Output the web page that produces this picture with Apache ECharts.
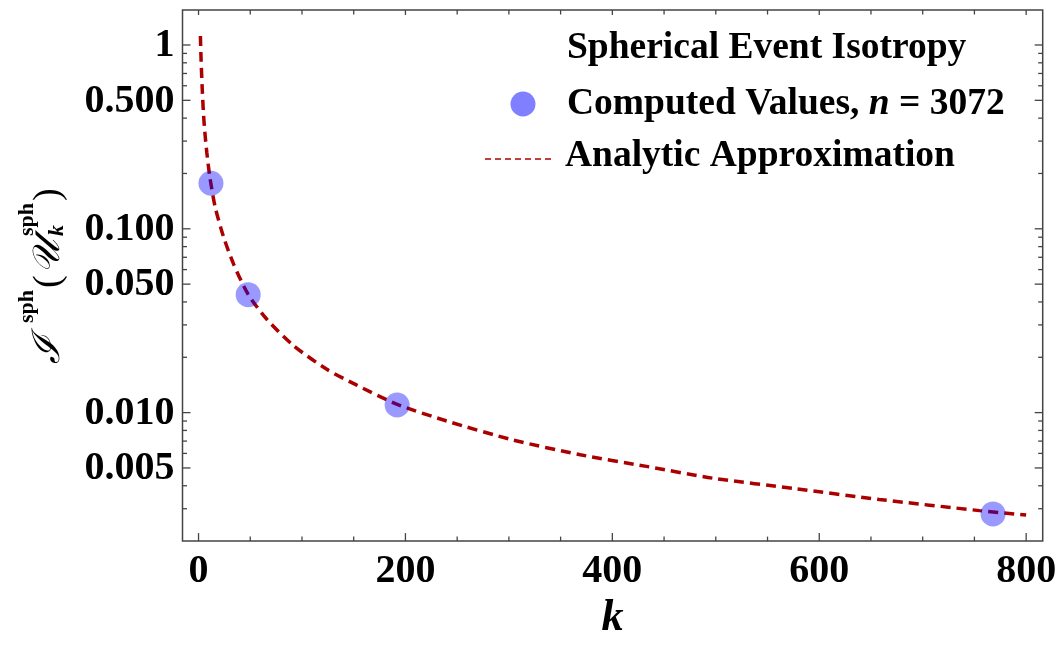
<!DOCTYPE html>
<html>
<head>
<meta charset="utf-8">
<script src="https://cdn.jsdelivr.net/npm/echarts@6/dist/echarts.min.js"></script>
<style>
  html, body { margin: 0; padding: 0; background: #ffffff; }
  #chart { width: 1060px; height: 646px; }
</style>
</head>
<body>
<div id="chart"></div>
<script>
// Computed isotropy values for HEALPix-style uniform events (k points)
const kComputed = [12, 48, 192, 768];
const isoComputed = [0.177, 0.0438, 0.0110, 0.00281];

// Analytic approximation curve, sampled along k
const kApprox = [1.8, 2.5, 3.5, 4.6, 6, 8, 11, 16, 24, 34, 48, 66, 92, 124, 153, 192,
                 240, 304, 369, 433, 497, 578, 658, 755, 800];
const isoApprox = [1.12, 0.82, 0.59, 0.44, 0.34, 0.26, 0.19, 0.132, 0.091, 0.064, 0.044,
                   0.0322, 0.0231, 0.0172, 0.0141, 0.0111, 0.0090, 0.0071, 0.0059, 0.0051,
                   0.0044, 0.00385, 0.00337, 0.00293, 0.00277];

// Axis ticks
const xTickValues = [0, 200, 400, 600, 800];
const xMinorTicks = [50, 100, 150, 250, 300, 350, 450, 500, 550, 650, 700, 750];
const yTickValues = [0.005, 0.01, 0.05, 0.1, 0.5, 1];
const yTickLabels = ['0.005', '0.010', '0.050', '0.100', '0.500', '1'];
const yMinorTicks = [0.003, 0.004, 0.006, 0.007, 0.008, 0.009,
                     0.02, 0.03, 0.04, 0.06, 0.07, 0.08, 0.09,
                     0.2, 0.3, 0.4, 0.6, 0.7, 0.8, 0.9];

const X_MIN = -15.5, X_MAX = 816;
const Y_MIN = 0.002, Y_MAX = 1.55;

const SERIF = '"Liberation Serif", "Times New Roman", serif';
const FRAME = '#444444';
const CURVE = '#aa0000';
const POINT = 'rgba(0, 0, 255, 0.5)';

function frameTicks(params, api) {
  const children = [];
  const seg = (x1, y1, x2, y2) => children.push({
    type: 'line',
    shape: { x1, y1, x2, y2 },
    style: { stroke: FRAME, lineWidth: 1.3 }
  });
  xTickValues.forEach(v => {
    const b = api.coord([v, Y_MIN]);
    const t = api.coord([v, Y_MAX]);
    seg(b[0], b[1], b[0], b[1] - 8);
    seg(t[0], t[1], t[0], t[1] + 5);
  });
  xMinorTicks.forEach(v => {
    const b = api.coord([v, Y_MIN]);
    const t = api.coord([v, Y_MAX]);
    seg(b[0], b[1], b[0], b[1] - 4.5);
    seg(t[0], t[1], t[0], t[1] + 4.5);
  });
  yTickValues.forEach((v, i) => {
    const l = api.coord([X_MIN, v]);
    const r = api.coord([X_MAX, v]);
    seg(l[0], l[1], l[0] + 8, l[1]);
    seg(r[0], r[1], r[0] - 8, r[1]);
    children.push({
      type: 'text',
      style: {
        x: l[0] - 8, y: l[1] + 1,
        text: yTickLabels[i],
        font: 'bold 40px ' + SERIF,
        textAlign: 'right',
        textVerticalAlign: 'middle',
        fill: '#000000'
      }
    });
  });
  yMinorTicks.forEach(v => {
    const l = api.coord([X_MIN, v]);
    const r = api.coord([X_MAX, v]);
    seg(l[0], l[1], l[0] + 4.5, l[1]);
    seg(r[0], r[1], r[0] - 4.5, r[1]);
  });
  return { type: 'group', children };
}

const chart = echarts.init(document.getElementById('chart'), null, { renderer: 'canvas' });

const legendFont = 'bold 37.5px ' + SERIF;
const titleMain = 'italic 38px "DejaVu Serif", ' + SERIF;
const supFont = 'bold 22px ' + SERIF;

chart.setOption({
  animation: false,
  backgroundColor: '#ffffff',
  grid: {
    left: 182.5, right: 17.3, top: 10, bottom: 104.3,
    show: true, borderColor: FRAME, borderWidth: 1.5,
    backgroundColor: 'transparent'
  },
  xAxis: {
    type: 'value',
    min: X_MIN, max: X_MAX,
    axisLine: { show: false },
    axisTick: { show: false },
    splitLine: { show: false },
    axisLabel: {
      customValues: xTickValues,
      margin: 11,
      color: '#000000',
      fontFamily: SERIF,
      fontWeight: 'bold',
      fontSize: 40
    },
    name: 'k',
    nameLocation: 'middle',
    nameGap: 52,
    nameTextStyle: {
      fontFamily: SERIF, fontWeight: 'bold', fontStyle: 'italic',
      fontSize: 44, color: '#000000'
    }
  },
  yAxis: {
    type: 'log',
    logBase: 10,
    min: Y_MIN, max: Y_MAX,
    axisLine: { show: false },
    axisTick: { show: false },
    axisLabel: { show: false },
    splitLine: { show: false },
    minorTick: { show: false },
    minorSplitLine: { show: false }
  },
  series: [
    {
      name: 'Analytic Approximation',
      type: 'line',
      data: kApprox.map((k, i) => [k, isoApprox[i]]),
      showSymbol: false,
      smooth: 0.25,
      lineStyle: { color: CURVE, width: 3.5, type: [10, 6] },
      z: 2
    },
    {
      name: 'Computed Values',
      type: 'scatter',
      data: kComputed.map((k, i) => [k, isoComputed[i]]),
      symbol: 'circle',
      symbolSize: 25,
      itemStyle: { color: POINT },
      z: 3
    },
    {
      name: 'frame',
      type: 'custom',
      data: [[0, 0.01]],
      renderItem: frameTicks,
      clip: false,
      silent: true,
      z: 4
    }
  ],
  graphic: [
    {
      type: 'text', x: 567, y: 48,
      style: { text: 'Spherical Event Isotropy', font: legendFont, fill: '#000', textVerticalAlign: 'middle' }
    },
    {
      type: 'circle', shape: { cx: 523, cy: 104, r: 12.5 },
      style: { fill: POINT }
    },
    {
      type: 'text', x: 567, y: 104,
      style: {
        text: '{a|Computed Values, }{i|n}{a| = 3072}',
        fill: '#000', textVerticalAlign: 'middle',
        rich: {
          a: { fontFamily: SERIF, fontWeight: 'bold', fontSize: 37.5 },
          i: { fontFamily: SERIF, fontWeight: 'bold', fontStyle: 'italic', fontSize: 37.5 }
        }
      }
    },
    {
      type: 'line', shape: { x1: 485, y1: 159, x2: 552, y2: 159 },
      style: { stroke: CURVE, lineWidth: 1.5, lineDash: [6, 4] }
    },
    {
      type: 'text', x: 565, y: 156,
      style: { text: 'Analytic Approximation', font: legendFont, fill: '#000', textVerticalAlign: 'middle' }
    },
    {
      // rotated y-axis title: I^sph(U_k^sph)
      type: 'group', x: 60, y: 364, rotation: Math.PI / 2,
      children: [
        { type: 'text', style: { x: 0, y: -11, text: 'ℐ', font: titleMain, fill: '#000', textVerticalAlign: 'middle' } },
        { type: 'text', style: { x: 41, y: -33, text: 'sph', font: supFont, fill: '#000', textVerticalAlign: 'middle' } },
        { type: 'text', style: { x: 76, y: -11, text: '(', font: '38px ' + SERIF, fill: '#000', textVerticalAlign: 'middle' } },
        { type: 'text', style: { x: 90, y: -11, text: '𝒰', font: titleMain, fill: '#000', textVerticalAlign: 'middle' } },
        { type: 'text', style: { x: 128, y: -33, text: 'sph', font: supFont, fill: '#000', textVerticalAlign: 'middle' } },
        { type: 'text', style: { x: 128, y: -3, text: 'k', font: 'bold italic 22px ' + SERIF, fill: '#000', textVerticalAlign: 'middle' } },
        { type: 'text', style: { x: 163, y: -11, text: ')', font: '38px ' + SERIF, fill: '#000', textVerticalAlign: 'middle' } }
      ]
    }
  ]
});
</script>
</body>
</html>
